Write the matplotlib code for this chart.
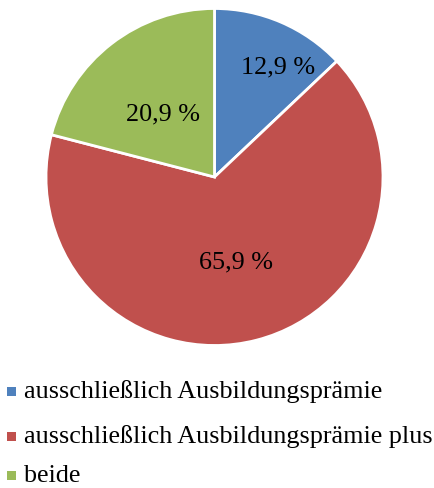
import numpy as np
import matplotlib.pyplot as plt
from matplotlib.patches import Rectangle

# Anteile der Betriebe
categories = ['ausschließlich Ausbildungsprämie',
              'ausschließlich Ausbildungsprämie plus',
              'beide']
shares = [12.9, 65.9, 20.9]
labels = ['12,9 %', '65,9 %', '20,9 %']
colors = ['#4F81BD', '#C0504D', '#9BBB59']

plt.rcParams['font.family'] = ['Liberation Serif', 'DejaVu Serif']

W, H = 435, 489
fig = plt.figure(figsize=(W / 100, H / 100), dpi=100)

# pie centre ~ (214.5, 178) px from top, radius ~168.5 px
cx, cy, r = 214.5, 178, 168.5
ax = fig.add_axes([(cx - r) / W, (H - cy - r) / H, 2 * r / W, 2 * r / H])
wedges, _ = ax.pie(shares, colors=colors, startangle=90, counterclock=False,
                   wedgeprops=dict(edgecolor='white', linewidth=2))
# label placement per wedge (excel "best fit"), distance + angle shift
dists = [0.775, 0.5, 0.5]
shifts = [-6, 0, 0]
for w, lab, d, s in zip(wedges, labels, dists, shifts):
    ang = np.deg2rad((w.theta1 + w.theta2) / 2 + s)
    ax.text(d * np.cos(ang), d * np.sin(ang) - 0.018, lab, fontsize=18.8,
            ha='center', va='center', color='black')
ax.set_xlim(-1, 1)
ax.set_ylim(-1, 1)
ax.set_aspect('equal')

# legend rows
row_y = [392, 437, 476]
for cat, col, y in zip(categories, colors, row_y):
    fig.patches.append(Rectangle((7 / W, 1 - (y + 4.5) / H), 9 / W, 9 / H,
                                 transform=fig.transFigure, facecolor=col,
                                 edgecolor='none'))
    fig.text(24 / W, 1 - y / H, cat, fontsize=18.8, va='center', ha='left')

fig.savefig('out.png', dpi=100)
